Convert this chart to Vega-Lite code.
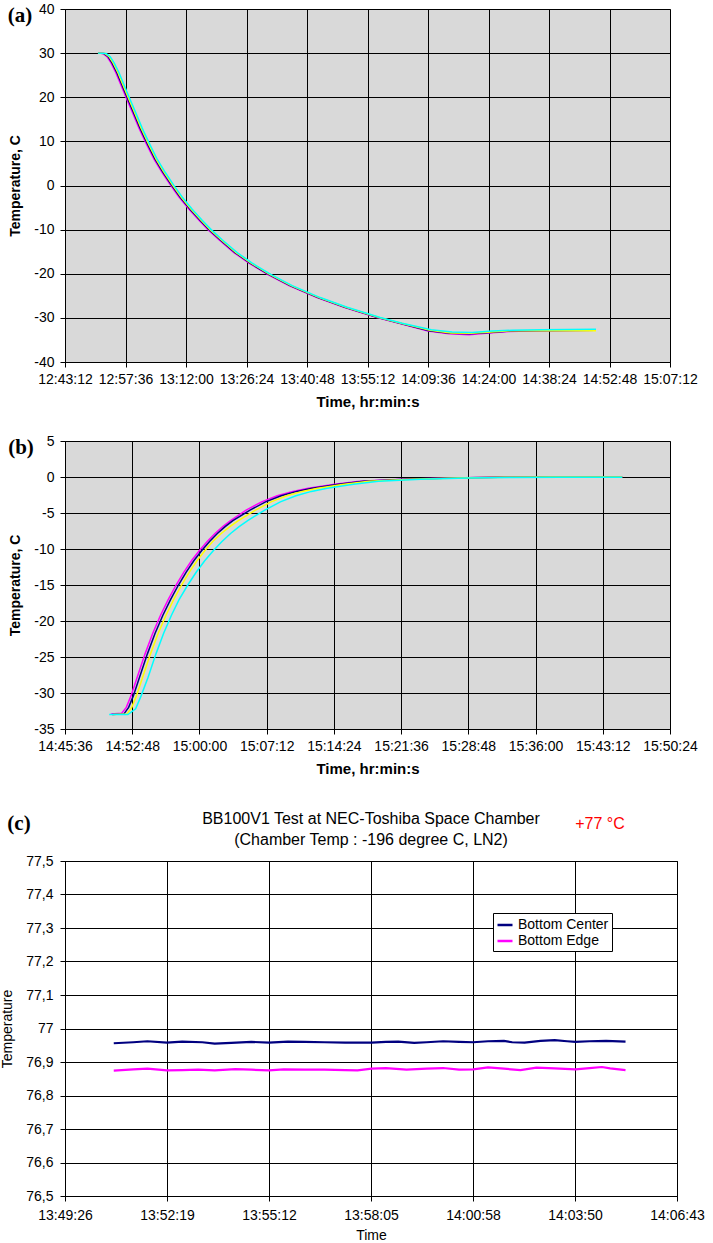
{
  "$schema": "https://vega.github.io/schema/vega-lite/v6.json",
  "padding": {"top": 1, "left": 0, "right": 0, "bottom": 0},
  "config": {
    "font": "Liberation Sans",
    "axis": {
      "labelFont": "Liberation Sans", "labelFontSize": 14, "labelColor": "black",
      "titleFont": "Liberation Sans", "titleFontSize": 15, "titleColor": "black", "titleFontWeight": "bold",
      "domainColor": "black", "tickColor": "black", "gridColor": "black", "gridOpacity": 1, "gridWidth": 1,
      "tickSize": 5, "labelPadding": 5, "labelOverlap": false, "labelFlush": false, "tickCount": 30
    }
  },
  "datasets": {
    "a": [
      {"s":"m","t":46263,"v":30},{"s":"m","t":46335,"v":29.9},{"s":"m","t":46392,"v":29.2},{"s":"m","t":46449,"v":27.8},{"s":"m","t":46520,"v":25.5},{"s":"m","t":46592,"v":22.7},{"s":"m","t":46663,"v":20.0},{"s":"m","t":46749,"v":16.8},{"s":"m","t":46849,"v":13.0},{"s":"m","t":46949,"v":9.6},{"s":"m","t":47063,"v":6.0},{"s":"m","t":47177,"v":3.0},{"s":"m","t":47306,"v":-0.1},{"s":"m","t":47420,"v":-2.6},{"s":"m","t":47563,"v":-5.4},{"s":"m","t":47706,"v":-7.9},{"s":"m","t":47834,"v":-10.0},{"s":"m","t":47991,"v":-12.3},{"s":"m","t":48205,"v":-15.2},{"s":"m","t":48420,"v":-17.6},{"s":"m","t":48691,"v":-20.2},{"s":"m","t":48991,"v":-22.7},{"s":"m","t":49391,"v":-25.4},{"s":"m","t":49776,"v":-27.6},{"s":"m","t":50247,"v":-29.9},{"s":"m","t":50562,"v":-31.2},{"s":"m","t":50976,"v":-33.0},{"s":"m","t":51276,"v":-33.6},{"s":"m","t":51561,"v":-33.8},{"s":"m","t":51847,"v":-33.4},{"s":"m","t":52132,"v":-33.1},{"s":"m","t":52561,"v":-32.9},{"s":"m","t":53375,"v":-32.8},
      {"s":"n","t":46263,"v":30},{"s":"n","t":46350,"v":29.9},{"s":"n","t":46407,"v":29.2},{"s":"n","t":46464,"v":27.8},{"s":"n","t":46535,"v":25.5},{"s":"n","t":46607,"v":22.7},{"s":"n","t":46678,"v":20.0},{"s":"n","t":46764,"v":16.8},{"s":"n","t":46864,"v":13.0},{"s":"n","t":46964,"v":9.6},{"s":"n","t":47078,"v":6.0},{"s":"n","t":47192,"v":3.0},{"s":"n","t":47321,"v":-0.1},{"s":"n","t":47435,"v":-2.6},{"s":"n","t":47578,"v":-5.4},{"s":"n","t":47721,"v":-7.9},{"s":"n","t":47849,"v":-10.0},{"s":"n","t":48006,"v":-12.3},{"s":"n","t":48220,"v":-15.2},{"s":"n","t":48435,"v":-17.6},{"s":"n","t":48706,"v":-20.2},{"s":"n","t":49006,"v":-22.7},{"s":"n","t":49406,"v":-25.4},{"s":"n","t":49791,"v":-27.6},{"s":"n","t":50262,"v":-29.9},{"s":"n","t":50577,"v":-31.2},{"s":"n","t":50991,"v":-32.9},{"s":"n","t":51291,"v":-33.5},{"s":"n","t":51576,"v":-33.6},{"s":"n","t":51862,"v":-33.3},{"s":"n","t":52147,"v":-33.0},{"s":"n","t":52576,"v":-32.9},{"s":"n","t":53375,"v":-32.8},
      {"s":"y","t":46263,"v":30},{"s":"y","t":46365,"v":29.9},{"s":"y","t":46422,"v":29.2},{"s":"y","t":46479,"v":27.8},{"s":"y","t":46550,"v":25.5},{"s":"y","t":46622,"v":22.7},{"s":"y","t":46693,"v":20.0},{"s":"y","t":46779,"v":16.8},{"s":"y","t":46879,"v":13.0},{"s":"y","t":46979,"v":9.6},{"s":"y","t":47093,"v":6.0},{"s":"y","t":47207,"v":3.0},{"s":"y","t":47336,"v":-0.1},{"s":"y","t":47450,"v":-2.6},{"s":"y","t":47593,"v":-5.4},{"s":"y","t":47736,"v":-7.9},{"s":"y","t":47864,"v":-10.0},{"s":"y","t":48021,"v":-12.3},{"s":"y","t":48235,"v":-15.2},{"s":"y","t":48450,"v":-17.6},{"s":"y","t":48721,"v":-20.2},{"s":"y","t":49021,"v":-22.7},{"s":"y","t":49421,"v":-25.4},{"s":"y","t":49806,"v":-27.6},{"s":"y","t":50277,"v":-29.9},{"s":"y","t":50592,"v":-31.2},{"s":"y","t":51006,"v":-32.8},{"s":"y","t":51306,"v":-33.4},{"s":"y","t":51591,"v":-33.5},{"s":"y","t":51877,"v":-33.2},{"s":"y","t":52162,"v":-32.9},{"s":"y","t":52591,"v":-32.9},{"s":"y","t":53375,"v":-32.9},
      {"s":"c","t":46263,"v":30},{"s":"c","t":46380,"v":29.9},{"s":"c","t":46437,"v":29.2},{"s":"c","t":46494,"v":27.8},{"s":"c","t":46565,"v":25.5},{"s":"c","t":46637,"v":22.7},{"s":"c","t":46708,"v":20.0},{"s":"c","t":46794,"v":16.8},{"s":"c","t":46894,"v":13.0},{"s":"c","t":46994,"v":9.6},{"s":"c","t":47108,"v":6.0},{"s":"c","t":47222,"v":3.0},{"s":"c","t":47351,"v":-0.1},{"s":"c","t":47465,"v":-2.6},{"s":"c","t":47608,"v":-5.4},{"s":"c","t":47751,"v":-7.9},{"s":"c","t":47879,"v":-10.0},{"s":"c","t":48036,"v":-12.3},{"s":"c","t":48250,"v":-15.2},{"s":"c","t":48465,"v":-17.6},{"s":"c","t":48736,"v":-20.2},{"s":"c","t":49036,"v":-22.7},{"s":"c","t":49436,"v":-25.4},{"s":"c","t":49821,"v":-27.6},{"s":"c","t":50292,"v":-29.9},{"s":"c","t":50607,"v":-31.2},{"s":"c","t":51021,"v":-32.7},{"s":"c","t":51321,"v":-33.2},{"s":"c","t":51606,"v":-33.3},{"s":"c","t":51892,"v":-33.0},{"s":"c","t":52177,"v":-32.8},{"s":"c","t":52606,"v":-32.7},{"s":"c","t":53375,"v":-32.6}
    ],
    "b": [
      {"s":"m","t":53430,"v":-32.9},{"s":"m","t":53500,"v":-32.8},{"s":"m","t":53530,"v":-32.0},{"s":"m","t":53560,"v":-30.4},{"s":"m","t":53600,"v":-27.8},{"s":"m","t":53650,"v":-24.6},{"s":"m","t":53700,"v":-21.7},{"s":"m","t":53750,"v":-19.2},{"s":"m","t":53800,"v":-17.0},{"s":"m","t":53850,"v":-15.0},{"s":"m","t":53900,"v":-13.2},{"s":"m","t":53950,"v":-11.6},{"s":"m","t":54000,"v":-10.2},{"s":"m","t":54050,"v":-8.95},{"s":"m","t":54100,"v":-7.85},{"s":"m","t":54150,"v":-6.9},{"s":"m","t":54200,"v":-6.05},{"s":"m","t":54300,"v":-4.6},{"s":"m","t":54400,"v":-3.45},{"s":"m","t":54500,"v":-2.6},{"s":"m","t":54600,"v":-2.0},{"s":"m","t":54700,"v":-1.55},{"s":"m","t":54870,"v":-1.0},{"s":"m","t":55030,"v":-0.6},{"s":"m","t":55300,"v":-0.3},{"s":"m","t":55600,"v":-0.15},{"s":"m","t":55900,"v":-0.05},{"s":"m","t":56200,"v":0},{"s":"m","t":56717,"v":0},
      {"s":"n","t":53440,"v":-33.0},{"s":"n","t":53515,"v":-32.9},{"s":"n","t":53545,"v":-32.0},{"s":"n","t":53575,"v":-30.4},{"s":"n","t":53615,"v":-27.8},{"s":"n","t":53665,"v":-24.6},{"s":"n","t":53715,"v":-21.7},{"s":"n","t":53765,"v":-19.2},{"s":"n","t":53815,"v":-17.0},{"s":"n","t":53865,"v":-15.0},{"s":"n","t":53915,"v":-13.2},{"s":"n","t":53965,"v":-11.6},{"s":"n","t":54015,"v":-10.2},{"s":"n","t":54065,"v":-8.95},{"s":"n","t":54115,"v":-7.85},{"s":"n","t":54165,"v":-6.9},{"s":"n","t":54215,"v":-6.05},{"s":"n","t":54325,"v":-4.6},{"s":"n","t":54425,"v":-3.45},{"s":"n","t":54525,"v":-2.6},{"s":"n","t":54625,"v":-2.0},{"s":"n","t":54725,"v":-1.55},{"s":"n","t":54895,"v":-1.0},{"s":"n","t":55055,"v":-0.6},{"s":"n","t":55325,"v":-0.3},{"s":"n","t":55625,"v":-0.15},{"s":"n","t":55925,"v":-0.05},{"s":"n","t":56225,"v":0},{"s":"n","t":56717,"v":0},
      {"s":"y","t":53445,"v":-33.0},{"s":"y","t":53535,"v":-32.9},{"s":"y","t":53565,"v":-32.0},{"s":"y","t":53595,"v":-30.4},{"s":"y","t":53635,"v":-27.8},{"s":"y","t":53685,"v":-24.6},{"s":"y","t":53735,"v":-21.7},{"s":"y","t":53785,"v":-19.2},{"s":"y","t":53835,"v":-17.0},{"s":"y","t":53885,"v":-15.0},{"s":"y","t":53935,"v":-13.2},{"s":"y","t":53985,"v":-11.6},{"s":"y","t":54035,"v":-10.2},{"s":"y","t":54085,"v":-8.95},{"s":"y","t":54140,"v":-7.85},{"s":"y","t":54195,"v":-6.9},{"s":"y","t":54250,"v":-6.05},{"s":"y","t":54360,"v":-4.6},{"s":"y","t":54460,"v":-3.45},{"s":"y","t":54560,"v":-2.6},{"s":"y","t":54660,"v":-2.0},{"s":"y","t":54760,"v":-1.55},{"s":"y","t":54930,"v":-1.0},{"s":"y","t":55090,"v":-0.6},{"s":"y","t":55360,"v":-0.3},{"s":"y","t":55660,"v":-0.15},{"s":"y","t":55960,"v":-0.05},{"s":"y","t":56260,"v":0},{"s":"y","t":56717,"v":0},
      {"s":"c","t":53420,"v":-33.0},{"s":"c","t":53540,"v":-33.0},{"s":"c","t":53590,"v":-32.2},{"s":"c","t":53625,"v":-30.4},{"s":"c","t":53670,"v":-27.8},{"s":"c","t":53720,"v":-24.6},{"s":"c","t":53770,"v":-21.7},{"s":"c","t":53820,"v":-19.2},{"s":"c","t":53870,"v":-17.0},{"s":"c","t":53925,"v":-15.0},{"s":"c","t":53980,"v":-13.2},{"s":"c","t":54035,"v":-11.6},{"s":"c","t":54090,"v":-10.2},{"s":"c","t":54145,"v":-8.95},{"s":"c","t":54200,"v":-7.85},{"s":"c","t":54255,"v":-6.9},{"s":"c","t":54310,"v":-6.05},{"s":"c","t":54420,"v":-4.6},{"s":"c","t":54520,"v":-3.45},{"s":"c","t":54620,"v":-2.6},{"s":"c","t":54720,"v":-2.0},{"s":"c","t":54820,"v":-1.55},{"s":"c","t":54990,"v":-1.0},{"s":"c","t":55150,"v":-0.6},{"s":"c","t":55420,"v":-0.3},{"s":"c","t":55720,"v":-0.15},{"s":"c","t":56020,"v":-0.07},{"s":"c","t":56320,"v":-0.03},{"s":"c","t":56717,"v":-0.03}
    ],
    "c": [
      {"s":"Bottom Center","t":49849,"v":76.956},{"s":"Bottom Center","t":49882,"v":76.959},{"s":"Bottom Center","t":49906,"v":76.962},{"s":"Bottom Center","t":49939,"v":76.958},{"s":"Bottom Center","t":49965,"v":76.961},{"s":"Bottom Center","t":49999,"v":76.959},{"s":"Bottom Center","t":50020,"v":76.955},{"s":"Bottom Center","t":50048,"v":76.957},{"s":"Bottom Center","t":50082,"v":76.960},{"s":"Bottom Center","t":50112,"v":76.958},{"s":"Bottom Center","t":50144,"v":76.961},{"s":"Bottom Center","t":50172,"v":76.960},{"s":"Bottom Center","t":50206,"v":76.959},{"s":"Bottom Center","t":50241,"v":76.958},{"s":"Bottom Center","t":50286,"v":76.958},{"s":"Bottom Center","t":50310,"v":76.960},{"s":"Bottom Center","t":50331,"v":76.961},{"s":"Bottom Center","t":50358,"v":76.957},{"s":"Bottom Center","t":50379,"v":76.959},{"s":"Bottom Center","t":50407,"v":76.962},{"s":"Bottom Center","t":50434,"v":76.960},{"s":"Bottom Center","t":50458,"v":76.959},{"s":"Bottom Center","t":50483,"v":76.962},{"s":"Bottom Center","t":50510,"v":76.963},{"s":"Bottom Center","t":50524,"v":76.959},{"s":"Bottom Center","t":50545,"v":76.958},{"s":"Bottom Center","t":50572,"v":76.963},{"s":"Bottom Center","t":50596,"v":76.965},{"s":"Bottom Center","t":50617,"v":76.962},{"s":"Bottom Center","t":50631,"v":76.960},{"s":"Bottom Center","t":50655,"v":76.962},{"s":"Bottom Center","t":50683,"v":76.963},{"s":"Bottom Center","t":50716,"v":76.961},
      {"s":"Bottom Edge","t":49849,"v":76.874},{"s":"Bottom Edge","t":49882,"v":76.878},{"s":"Bottom Edge","t":49906,"v":76.880},{"s":"Bottom Edge","t":49939,"v":76.875},{"s":"Bottom Edge","t":49965,"v":76.876},{"s":"Bottom Edge","t":49992,"v":76.877},{"s":"Bottom Edge","t":50020,"v":76.875},{"s":"Bottom Edge","t":50055,"v":76.879},{"s":"Bottom Edge","t":50082,"v":76.877},{"s":"Bottom Edge","t":50112,"v":76.875},{"s":"Bottom Edge","t":50137,"v":76.878},{"s":"Bottom Edge","t":50172,"v":76.877},{"s":"Bottom Edge","t":50206,"v":76.877},{"s":"Bottom Edge","t":50241,"v":76.876},{"s":"Bottom Edge","t":50262,"v":76.875},{"s":"Bottom Edge","t":50286,"v":76.880},{"s":"Bottom Edge","t":50310,"v":76.882},{"s":"Bottom Edge","t":50345,"v":76.877},{"s":"Bottom Edge","t":50379,"v":76.880},{"s":"Bottom Edge","t":50407,"v":76.882},{"s":"Bottom Edge","t":50434,"v":76.877},{"s":"Bottom Edge","t":50458,"v":76.878},{"s":"Bottom Edge","t":50483,"v":76.884},{"s":"Bottom Edge","t":50510,"v":76.880},{"s":"Bottom Edge","t":50538,"v":76.876},{"s":"Bottom Edge","t":50565,"v":76.883},{"s":"Bottom Edge","t":50596,"v":76.881},{"s":"Bottom Edge","t":50631,"v":76.878},{"s":"Bottom Edge","t":50655,"v":76.882},{"s":"Bottom Edge","t":50676,"v":76.885},{"s":"Bottom Edge","t":50690,"v":76.881},{"s":"Bottom Edge","t":50716,"v":76.876}
    ]
  },
  "resolve": {"scale": {"color": "independent"}},
  "vconcat": [
    {
      "vconcat": [
        {
          "width": 605, "height": 353,
          "view": {"fill": "#D9D9D9", "stroke": "#808080", "strokeWidth": 1},
          "layer": [
            {
              "data": {"name": "a"},
              "mark": {"type": "line", "strokeWidth": 1.5, "clip": true},
              "encoding": {
                "x": {"field": "t", "type": "quantitative", "scale": {"domain": [45792, 54432], "nice": false, "zero": false},
                  "axis": {"values": [45792,46656,47520,48384,49248,50112,50976,51840,52704,53568,54432], "labelExpr": "utcFormat(datum.value*1000,'%H:%M:%S')", "title": "Time, hr:min:s", "titlePadding": 8, "tickCount": 30}},
                "y": {"field": "v", "type": "quantitative", "scale": {"domain": [-40, 40], "nice": false, "zero": false},
                  "axis": {"values": [-40,-30,-20,-10,0,10,20,30,40], "labelExpr": "'' + datum.value", "title": "Temperature, C", "titleFontSize": 14, "labelPadding": 6, "titlePadding": 11, "tickCount": 30}},
                "color": {"field": "s", "type": "nominal", "scale": {"domain": ["m","n","y","c"], "range": ["#FF00FF","#000080","#FFFF00","#00FFFF"]}, "legend": null}
              }
            },
            {
              "data": {"values": [{}]},
              "mark": {"type": "text", "font": "Liberation Serif", "fontWeight": "bold", "fontSize": 21, "align": "center", "baseline": "middle", "color": "black"},
              "encoding": {"x": {"datum": 45149, "type": "quantitative"}, "y": {"datum": 38.4, "type": "quantitative"}, "text": {"value": "(a)"}}
            }
          ]
        },
        {
          "width": 605, "height": 288,
          "view": {"fill": "#D9D9D9", "stroke": "#808080", "strokeWidth": 1},
          "layer": [
            {
              "data": {"name": "b"},
              "mark": {"type": "line", "strokeWidth": 1.5, "clip": true},
              "encoding": {
                "x": {"field": "t", "type": "quantitative", "scale": {"domain": [53136, 57024], "nice": false, "zero": false},
                  "axis": {"values": [53136,53568,54000,54432,54864,55296,55728,56160,56592,57024], "labelExpr": "utcFormat(datum.value*1000,'%H:%M:%S')", "title": "Time, hr:min:s", "titlePadding": 8, "tickCount": 30}},
                "y": {"field": "v", "type": "quantitative", "scale": {"domain": [-35, 5], "nice": false, "zero": false},
                  "axis": {"values": [-35,-30,-25,-20,-15,-10,-5,0,5], "labelExpr": "'' + datum.value", "title": "Temperature, C", "titleFontSize": 14, "labelPadding": 6, "titlePadding": 11, "tickCount": 30}},
                "color": {"field": "s", "type": "nominal", "scale": {"domain": ["m","n","y","c"], "range": ["#FF00FF","#000080","#FFFF00","#00FFFF"]}, "legend": null}
              }
            },
            {
              "data": {"values": [{}]},
              "mark": {"type": "text", "font": "Liberation Serif", "fontWeight": "bold", "fontSize": 21, "align": "center", "baseline": "middle", "color": "black"},
              "encoding": {"x": {"datum": 52853, "type": "quantitative"}, "y": {"datum": 4.0, "type": "quantitative"}, "text": {"value": "(b)"}}
            }
          ]
        }
      ],
      "spacing": 23
    },
    {
      "width": 612, "height": 335,
      "view": {"fill": "white", "stroke": "black", "strokeWidth": 1},
      "layer": [
        {
          "data": {"name": "c"},
          "mark": {"type": "line", "strokeWidth": 2.2, "clip": true},
          "encoding": {
            "x": {"field": "t", "type": "quantitative", "scale": {"domain": [49766.4, 50803.2], "nice": false, "zero": false},
              "axis": {"values": [49766.4,49939.2,50112,50284.8,50457.6,50630.4,50803.2], "labelExpr": "utcFormat(round(datum.value)*1000,'%H:%M:%S')", "title": "Time", "titleFontWeight": "normal", "titleFontSize": 14, "labelPadding": 7, "titlePadding": 6, "tickCount": 30}},
            "y": {"field": "v", "type": "quantitative", "scale": {"domain": [76.5, 77.5], "nice": false, "zero": false},
              "axis": {"values": [76.5,76.6,76.7,76.8,76.9,77.0,77.1,77.2,77.3,77.4,77.5], "labelExpr": "replace(format(datum.value, '.1~f'), '.', ',')", "title": "Temperature", "titleFontWeight": "normal", "titleFontSize": 14, "labelPadding": 7, "titlePadding": 11, "tickCount": 30}},
            "color": {"field": "s", "type": "nominal", "scale": {"domain": ["Bottom Center","Bottom Edge"], "range": ["#000080","#FF00FF"]},
              "legend": {"title": null, "orient": "none", "legendX": 428, "legendY": 52, "strokeColor": "black", "fillColor": "white", "padding": 3, "symbolType": "stroke", "symbolStrokeWidth": 2.5, "symbolSize": 225, "labelFont": "Liberation Sans", "labelFontSize": 14, "labelColor": "black", "rowPadding": 0, "cornerRadius": 0}}
          }
        },
        {
          "data": {"values": [{}]},
          "mark": {"type": "text", "font": "Liberation Sans", "fontSize": 16, "align": "center", "baseline": "middle", "color": "black"},
          "encoding": {"x": {"datum": 50284.8, "type": "quantitative"}, "y": {"datum": 77.625, "type": "quantitative"}, "text": {"value": "BB100V1 Test at NEC-Toshiba Space Chamber"}}
        },
        {
          "data": {"values": [{}]},
          "mark": {"type": "text", "font": "Liberation Sans", "fontSize": 16, "align": "center", "baseline": "middle", "color": "black"},
          "encoding": {"x": {"datum": 50284.8, "type": "quantitative"}, "y": {"datum": 77.563, "type": "quantitative"}, "text": {"value": "(Chamber Temp : -196 degree C, LN2)"}}
        },
        {
          "data": {"values": [{}]},
          "mark": {"type": "text", "font": "Liberation Serif", "fontWeight": "bold", "fontSize": 21, "align": "center", "baseline": "middle", "color": "black"},
          "encoding": {"x": {"datum": 49688.5, "type": "quantitative"}, "y": {"datum": 77.61, "type": "quantitative"}, "text": {"value": "(c)"}}
        },
        {
          "data": {"values": [{}]},
          "mark": {"type": "text", "font": "Liberation Sans", "fontSize": 16, "align": "center", "baseline": "middle", "color": "#FF0000"},
          "encoding": {"x": {"datum": 50672.8, "type": "quantitative"}, "y": {"datum": 77.61, "type": "quantitative"}, "text": {"value": "+77 °C"}}
        }
      ]
    }
  ],
  "spacing": 33
}
